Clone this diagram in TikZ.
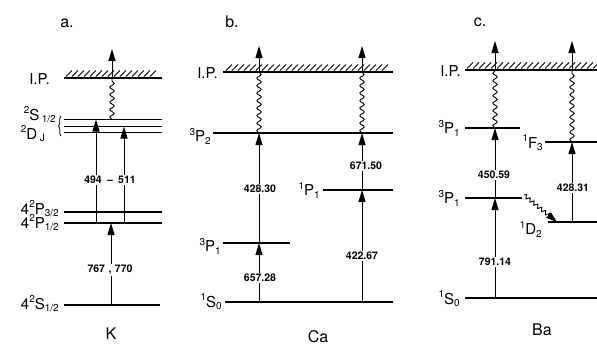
\documentclass[tikz,border=0pt]{standalone}
\usepackage{fontspec}
\setmainfont{TeX Gyre Heros}
\usetikzlibrary{arrows.meta,decorations.pathmorphing,decorations.pathreplacing}
\newcommand{\lsub}[1]{\raisebox{-0.35ex}{\fontsize{10}{10}\selectfont #1}}
\newcommand{\lsup}[1]{\raisebox{0.8ex}{\fontsize{10}{10}\selectfont #1}}
\tikzset{
  lvl/.style={line width=1.5pt},
  up/.style={line width=1pt,-{Triangle[length=12pt,width=7pt]}},
  wv/.style={line width=0.9pt,decorate,decoration={snake,amplitude=2.2pt,segment length=7.5pt}},
  num/.style={font=\bfseries\fontsize{10.5}{10.5}\selectfont,fill=white,inner sep=1.5pt},
  lab/.style={font=\fontsize{15}{15}\selectfont,anchor=east,inner sep=1pt},
  ttl/.style={font=\fontsize{16}{16}\selectfont},
  hatch/.style={line width=0.8pt},
}
\begin{document}
\begin{tikzpicture}[x=1pt,y=-1pt]
\useasboundingbox (0,0) rectangle (597,349);
% ================= panel a =================
\node[ttl] (ta) at (67,23) {a.};
\node[ttl] (tk) at (111,334) {K};
\draw[lvl] (64,78) -- (162,78);
\foreach \x in {66,72,...,153} \draw[hatch] (\x,76.5) -- ++(6,-6);
\node[lab] (ipa) at (51,79) {I.P.};
\draw[lvl] (64,119.5) -- (162,119.5);
\draw[lvl] (64,126.5) -- (162,126.5);
\draw[lvl] (64,132.5) -- (162,132.5);
\node[lab] (sa) at (57,115) {\lsup{2}S\,\lsub{1/2}};
\node[lab] (da) at (46,134) {\lsup{2}D\,\lsub{J}};
\draw[line width=0.8pt,decorate,decoration={brace,amplitude=2.5pt}] (61,136) -- (61,116);
\draw[lvl] (64,212) -- (162,212);
\draw[lvl] (64,223) -- (162,223);
\node[lab] (p3) at (60,209) {4\lsup{2}P\lsub{3/2}};
\node[lab] (p1) at (60,223) {4\lsup{2}P\lsub{1/2}};
\draw[lvl] (64,305) -- (160,305);
\node[lab] (s0a) at (60,304) {4\lsup{2}S\lsub{1/2}};
\coordinate (a1) at (112,119.5);
\coordinate (a2) at (112,78);
\coordinate (a3) at (112,49);
\draw[wv] (a1) -- (a2);
\draw[up] (a2) -- (a3);
\coordinate (b1) at (96,223);
\coordinate (b2) at (96,119.5);
\coordinate (c1) at (124,223);
\coordinate (c2) at (124,126.5);
\draw[up] (b1) -- (b2);
\draw[up] (c1) -- (c2);
\node[num,minimum width=52pt] (n1) at (110,180) {494\,\,\,–\,\,\,511};
\coordinate (d1) at (111,305);
\coordinate (d2) at (111,223);
\draw[up] (d1) -- (d2);
\node[num] (n2) at (110,270) {767\,\,,\,\,770};
% ================= panel b =================
\node[ttl] (tb) at (232,22) {b.};
\node[ttl] (tca) at (318,337) {Ca};
\draw[lvl] (223,72) -- (393,72);
\foreach \x in {226,232,...,385} \draw[hatch] (\x,70.5) -- ++(6,-6);
\node[lab] (ipb) at (219,73) {I.P.};
\draw[lvl] (213,133) -- (393,133);
\node[lab] (p2b) at (212,136) {\lsup{3}P\lsub{2}};
\draw[lvl] (323,190) -- (393,190);
\node[lab] (p1b) at (321,190) {\lsup{1}P\lsub{1}};
\draw[lvl] (223,243) -- (290,243);
\node[lab] (p1c) at (222,246) {\lsup{3}P\lsub{1}};
\draw[lvl] (225,302) -- (393,302);
\node[lab] (s0b) at (223,302) {\lsup{1}S\lsub{0}};
% left column
\coordinate (e0) at (259,302);
\coordinate (e1) at (259,243);
\coordinate (e2) at (259,133);
\coordinate (e3) at (259,72);
\coordinate (e4) at (259,46);
\draw[up] (e0) -- (e1);
\draw[up] (e1) -- (e2);
\draw[wv] (e2) -- (e3);
\draw[up] (e3) -- (e4);
\node[num] (n3) at (260,189) {428.30};
\node[num] (n4) at (260,278) {657.28};
% right column
\coordinate (f0) at (362,302);
\coordinate (f1) at (362,190);
\coordinate (f2) at (362,133);
\coordinate (f3) at (362,72);
\coordinate (f4) at (362,46);
\draw[up] (f0) -- (f1);
\draw[up] (f1) -- (f2);
\draw[wv] (f2) -- (f3);
\draw[up] (f3) -- (f4);
\node[num] (n5) at (366,166) {671.50};
\node[num] (n6) at (362,256) {422.67};
% ================= panel c =================
\node[ttl] (tc) at (480,22) {c.};
\node[ttl] (tba) at (542,330) {Ba};
\draw[lvl] (465,70) -- (597,70);
\foreach \x in {467,473,...,593} \draw[hatch] (\x,68.5) -- ++(6,-6);
\node[lab] (ipc) at (462,71) {I.P.};
\draw[lvl] (465,128) -- (520,128);
\node[lab] (p1d) at (461,128) {\lsup{3}P\lsub{1}};
\draw[lvl] (545,142) -- (597,142);
\node[lab] (f3c) at (544,143) {\lsup{1}F\lsub{3}};
\draw[lvl] (465,198) -- (522,198);
\node[lab] (p1e) at (461,198) {\lsup{3}P\lsub{1}};
\draw[lvl] (548,222) -- (597,222);
\node[lab] (d2c) at (543,229) {\lsup{1}D\lsub{2}};
\draw[lvl] (465,298) -- (597,298);
\node[lab] (s0c) at (461,299) {\lsup{1}S\lsub{0}};
% left column
\coordinate (g0) at (495,298);
\coordinate (g1) at (495,198);
\coordinate (g2) at (495,128);
\coordinate (g3) at (495,70);
\coordinate (g4) at (495,41);
\draw[up] (g0) -- (g1);
\draw[up] (g1) -- (g2);
\draw[wv] (g2) -- (g3);
\draw[up] (g3) -- (g4);
\node[num] (n7) at (494,175) {450.59};
\node[num] (n8) at (495,262) {791.14};
% right column
\coordinate (h0) at (572,222);
\coordinate (h1) at (572,142);
\coordinate (h2) at (572,70);
\coordinate (h3) at (572,41);
\draw[up] (h0) -- (h1);
\draw[wv] (h1) -- (h2);
\draw[up] (h2) -- (h3);
\node[num] (n9) at (573,188) {428.31};
% decay
\coordinate (k0) at (524,195);
\coordinate (k1) at (557,222);
\draw[line width=0.9pt,-{Triangle[length=11pt,width=7pt]},decorate,decoration={snake,amplitude=1.8pt,segment length=5pt,post length=9pt}] (k0) -- (k1);
\end{tikzpicture}
\end{document}
